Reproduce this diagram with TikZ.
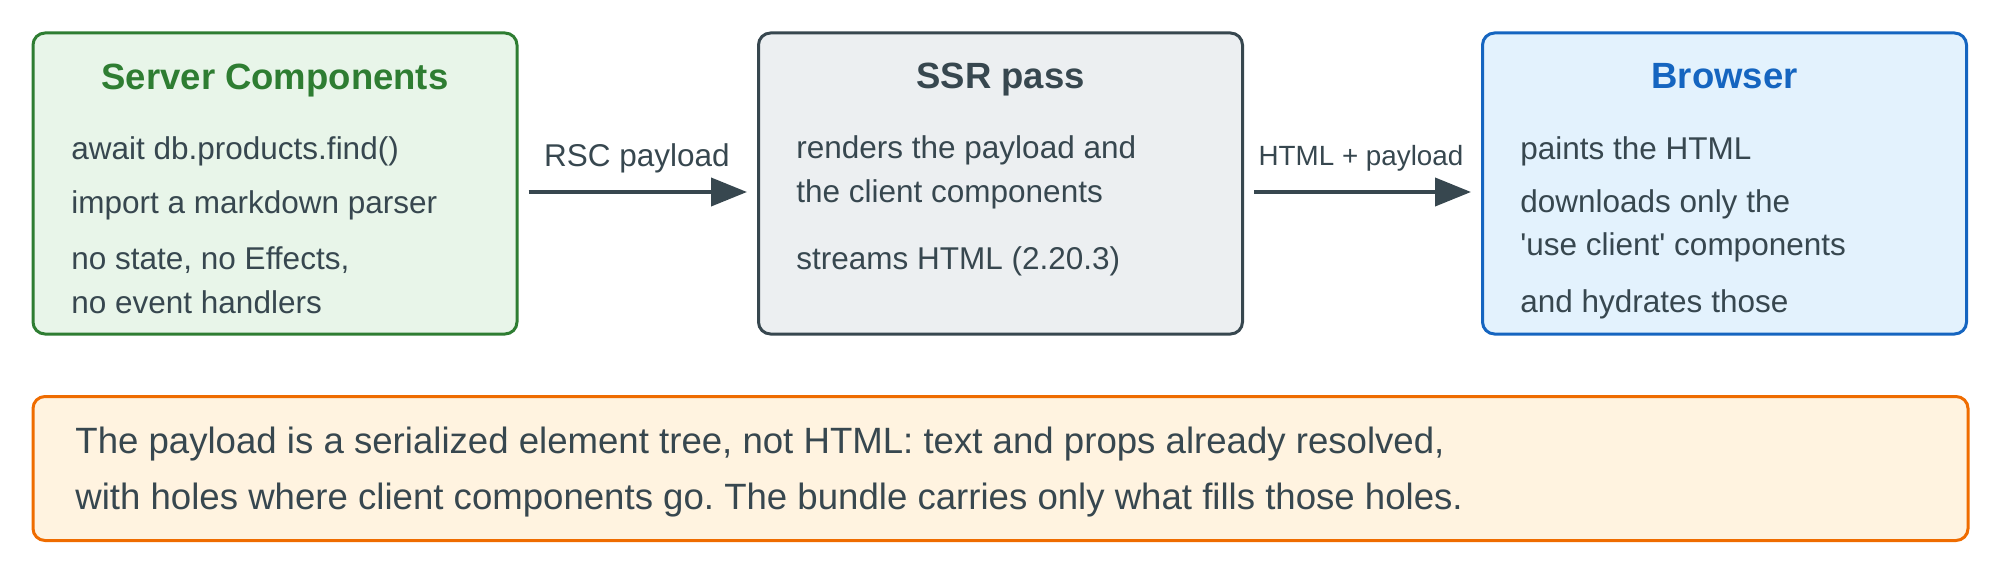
\documentclass[tikz,border=0pt]{standalone}
\usepackage{fontspec}
\setmainfont{Liberation Sans}
\usetikzlibrary{arrows.meta}
\frenchspacing

\definecolor{ink}{HTML}{37474F}
\definecolor{srvline}{HTML}{2E7D32}
\definecolor{srvfill}{HTML}{E8F5E9}
\definecolor{ssrfill}{HTML}{ECEFF1}
\definecolor{brline}{HTML}{1565C0}
\definecolor{brfill}{HTML}{E3F2FD}
\definecolor{noteline}{HTML}{EF6C00}
\definecolor{notefill}{HTML}{FFF3E0}

\tikzset{
  box/.style={draw, line width=1.5pt, rounded corners=6pt, inner sep=0pt,
    minimum width=242pt, minimum height=150.5pt},
  ttl/.style={anchor=base, inner sep=0pt, font=\fontsize{18.25}{22}\selectfont\bfseries},
  txt/.style={anchor=base west, inner sep=0pt, text=ink, font=\fontsize{15.75}{19}\selectfont},
  lbl/.style={anchor=base, inner sep=0pt, text=ink},
  note/.style={anchor=base west, inner sep=0pt, text=ink, font=\fontsize{18.3}{22}\selectfont},
  flow/.style={draw=ink, line width=2pt, -{Triangle[length=18pt,width=14pt]},
    shorten <=5pt, shorten >=5pt},
}

\begin{document}
\begin{tikzpicture}[x=0.5pt,y=-0.5pt]
        \useasboundingbox (0,0) rectangle (2000,567);
        % the three stages
        \node[box, draw=srvline, fill=srvfill] (sc) at (275,183.5) {};
        \node[box, draw=ink, fill=ssrfill] (ssr) at (1000.5,183.5) {};
        \node[box, draw=brline, fill=brfill] (br) at (1724.5,183.5) {};
        \node[ttl, text=srvline] (sct) at (275,90) {Server Components};
        \node[ttl, text=ink] (ssrt) at (1000.5,89) {SSR pass};
        \node[ttl, text=brline] (brt) at (1724.5,89) {Browser};
        \node[txt] (sc1) at (71,159) {await db.products.find()};
        \node[txt] (sc2) at (71,213) {import a markdown parser};
        \node[txt] (sc3) at (71,269) {no state, no Effects,};
        \node[txt] (sc4) at (71,313) {no event handlers};
        \node[txt] (ssr1) at (796,158) {renders the payload and};
        \node[txt] (ssr2) at (796,202) {the client components};
        \node[txt] (ssr3) at (796,269) {streams HTML (2.20.3)};
        \node[txt] (br1) at (1520,159) {paints the HTML};
        \node[txt] (br2) at (1520,212) {downloads only the};
        \node[txt] (br3) at (1520,255) {\textquotesingle use client\textquotesingle{} components};
        \node[txt] (br4) at (1520,312) {and hydrates those};
        % connectors
        \draw[flow] ([yshift=-4.25pt]sc.east) -- ([yshift=-4.25pt]ssr.west);
        \draw[flow] ([yshift=-4.25pt]ssr.east) -- ([yshift=-4.25pt]br.west);
        \node[lbl, font=\fontsize{15.75}{19}\selectfont] (rsc) at (637,166) {RSC payload};
        \node[lbl, font=\fontsize{13.9}{17}\selectfont] (html) at (1361,165) {HTML + payload};
        % note below
        \node[box, draw=noteline, fill=notefill, minimum width=967.5pt, minimum height=72pt] (nb) at (1000.5,468.5) {};
        \node[note] (n1) at (75,453) {The payload is a serialized element tree, not HTML: text and props already resolved,};
        \node[note] (n2) at (75,509) {with holes where client components go. The bundle carries only what fills those holes.};
    \end{tikzpicture}
\end{document}
